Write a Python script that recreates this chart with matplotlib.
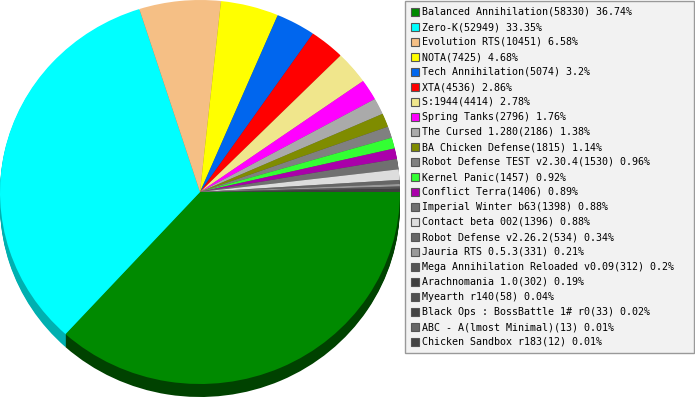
import numpy as np
import matplotlib
matplotlib.use('Agg')
import matplotlib.pyplot as plt
from matplotlib.patches import Rectangle
from matplotlib.colors import to_rgb

###############################################################################
# Data
###############################################################################

names = ['Balanced Annihilation', 'Zero-K', 'Evolution RTS', 'NOTA',
         'Tech Annihilation', 'XTA', 'S:1944', 'Spring Tanks',
         'The Cursed 1.280', 'BA Chicken Defense', 'Robot Defense TEST v2.30.4',
         'Kernel Panic', 'Conflict Terra', 'Imperial Winter b63',
         'Contact beta 002', 'Robot Defense v2.26.2', 'Jauria RTS 0.5.3',
         'Mega Annihilation Reloaded v0.09', 'Arachnomania 1.0', 'Myearth r140',
         'Black Ops : BossBattle 1# r0', 'ABC - A(lmost Minimal)',
         'Chicken Sandbox r183']
counts = [58330, 52949, 10451, 7425, 5074, 4536, 4414, 2796, 2186, 1815, 1530,
          1457, 1406, 1398, 1396, 534, 331, 312, 302, 58, 33, 13, 12]
pcts = ['36.74', '33.35', '6.58', '4.68', '3.2', '2.86', '2.78', '1.76', '1.38',
        '1.14', '0.96', '0.92', '0.89', '0.88', '0.88', '0.34', '0.21', '0.2',
        '0.19', '0.04', '0.02', '0.01', '0.01']
colors = ['#008a00', '#00ffff', '#f5bf85', '#ffff00', '#0066ee', '#ff0000',
          '#f0e68c', '#ff00ff', '#aaaaaa', '#7f8c00', '#808080', '#33ff33',
          '#aa00aa', '#707070', '#dddddd', '#666666', '#999999', '#555555',
          '#3f3f3f', '#505050', '#444444', '#666666', '#444444']

###############################################################################
# Figure
###############################################################################

W, H = 695, 400
fig = plt.figure(figsize=(W/100., H/100.), dpi=100)
fig.patch.set_facecolor('white')

# pie axes: 1 unit = 200 px horizontally, 192 px vertically
rx, ry = 200., 192.
cx, cy = 200., 192.
ax = fig.add_axes([0, 0, 1, 1])

depth = 13
dark = [tuple(0.6*c for c in to_rgb(col)) for col in colors]
dark[0] = '#004200'
dark[1] = '#00b0b0'
for k in range(depth, 0, -1):
    ax.pie(counts, colors=dark, startangle=0, counterclock=False,
           radius=1, center=(0, -k/ry),
           wedgeprops=dict(linewidth=0, antialiased=True))
ax.pie(counts, colors=colors, startangle=0, counterclock=False,
       radius=1, center=(0, 0), wedgeprops=dict(linewidth=0))
ax.set_aspect('auto')
ax.set_xlim(-cx/rx, (W-cx)/rx)
ax.set_ylim(-(H-cy)/ry, cy/ry)
ax.axis('off')

###############################################################################
# Legend
###############################################################################

lg = fig.add_axes([0, 0, 1, 1])
lg.set_xlim(0, W)
lg.set_ylim(H, 0)
lg.axis('off')
lg.add_patch(Rectangle((405, 1), 289, 352, facecolor='#f2f2f2',
                       edgecolor='#999999', linewidth=1))
for i in range(len(names)):
    y = 12 + 15*i
    lg.add_patch(Rectangle((411, y-4), 8, 8, facecolor=colors[i],
                           edgecolor='#555555', linewidth=0.8))
    lg.text(422, y, '%s(%d) %s%%' % (names[i], counts[i], pcts[i]),
            fontsize=7.2, family='DejaVu Sans Mono', va='center', ha='left',
            color='black')

fig.savefig('out.png', dpi=100)
